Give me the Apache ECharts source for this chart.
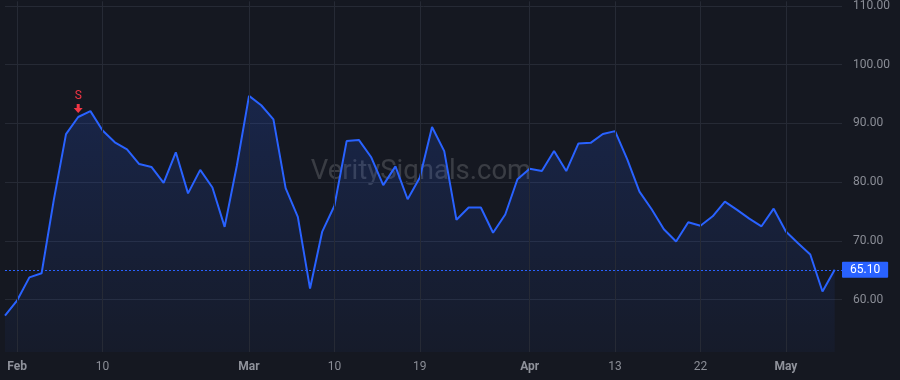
<!DOCTYPE html>
<html>
<head>
<meta charset="utf-8">
<style>
  html, body { margin: 0; padding: 0; background: #151821; }
  #chart { width: 900px; height: 380px; }
</style>
<script src="https://cdn.jsdelivr.net/npm/echarts@6/dist/echarts.min.js"></script>
</head>
<body>
<div id="chart"></div>
<script>
// ---- data ----
const prices = [57.3, 59.9, 63.8, 64.5, 77.0, 88.2, 91.1, 92.1, 88.8, 86.8, 85.6, 83.1, 82.6, 79.9, 85.1, 78.1, 82.1, 79.1, 72.4, 82.8,
  94.7, 93.1, 90.7, 79.0, 74.1, 61.9, 71.6, 76.0, 87.0, 87.2, 84.3, 79.5, 82.7, 77.1, 80.8, 89.4, 85.3, 73.6, 75.7, 75.7,
  71.4, 74.5, 80.5, 82.3, 81.9, 85.3, 81.9, 86.6, 86.7, 88.2, 88.7, 83.9, 78.4, 75.4, 72.0, 69.9, 73.2, 72.6, 74.2, 76.7,
  75.3, 73.8, 72.5, 75.5, 71.6, 69.6, 67.7, 61.4, 65.10];
const xLabelIndex = [1, 8, 20, 27, 34, 43, 50, 57, 64];
const xLabelText = ['Feb', '10', 'Mar', '10', '19', 'Apr', '13', '22', 'May'];
const monthLabels = ['Feb', 'Mar', 'Apr', 'May'];
const lastPrice = 65.10;
const signalIndex = 6;
const signalText = 'S';
const watermark = 'VeritySignals.com';

const labelMap = {};
xLabelIndex.forEach((idx, k) => { labelMap[idx] = xLabelText[k]; });

const chart = echarts.init(document.getElementById('chart'), null, { renderer: 'canvas' });
const font = 'Roboto, "Noto Sans", sans-serif';

const option = {
  backgroundColor: '#151821',
  animation: false,
  grid: { left: 5, right: 58, top: 0, bottom: 28, containLabel: false },
  graphic: [{
    type: 'text',
    x: 421, y: 172,
    silent: true,
    z: 0,
    style: {
      text: watermark,
      font: '27.5px ' + font,
      fill: 'rgba(255,255,255,0.16)',
      textAlign: 'center',
      textVerticalAlign: 'middle'
    }
  }],
  xAxis: {
    type: 'value',
    min: 0,
    max: 68.6,
    interval: 1,
    axisLine: { show: false },
    axisTick: { show: false },
    splitLine: { show: false },
    axisLabel: {
      margin: 9,
      fontFamily: font,
      fontSize: 12,
      color: '#8a8d96',
      showMinLabel: true,
      showMaxLabel: false,
      formatter: function (v) {
        const t = labelMap[Math.round(v)];
        if (t === undefined || Math.abs(v - Math.round(v)) > 1e-6) return '';
        return monthLabels.indexOf(t) >= 0 ? '{m|' + t + '}' : t;
      },
      rich: {
        m: { fontWeight: 'bold', fontSize: 12, fontFamily: font, color: '#8f929b' }
      }
    }
  },
  yAxis: {
    type: 'value',
    position: 'right',
    min: 51.1,
    max: 110.8,
    axisLine: { show: false },
    axisTick: { show: false },
    splitLine: { show: true, showMinLine: false, showMaxLine: false, lineStyle: { color: '#262a35', width: 1 } },
    axisLabel: {
      margin: 11,
      fontFamily: font,
      fontSize: 12,
      color: '#8a8d96',
      showMinLabel: false,
      showMaxLabel: false,
      formatter: v => v.toFixed(2)
    }
  },
  series: [
    {
      type: 'line',
      z: 1,
      data: [],
      silent: true,
      markLine: {
        silent: true,
        symbol: 'none',
        label: { show: false },
        lineStyle: { color: '#262a35', width: 1, type: 'solid' },
        data: xLabelIndex.map(i => ({ xAxis: i }))
      }
    },
    {
      type: 'line',
      z: 2,
      data: prices.map((v, i) => [i, v]),
      showSymbol: false,
      symbol: 'none',
      lineStyle: { color: '#2962ff', width: 2 },
      areaStyle: {
        color: new echarts.graphic.LinearGradient(0, 0, 0, 1, [
          { offset: 0, color: 'rgba(41,98,255,0.26)' },
          { offset: 1, color: 'rgba(41,98,255,0.06)' }
        ])
      },
      markLine: {
        silent: true,
        symbol: 'none',
        lineStyle: { color: '#2962ff', width: 1, type: [2, 2] },
        label: {
          show: true,
          position: 'end',
          distance: 0,
          formatter: () => lastPrice.toFixed(2),
          backgroundColor: '#2962ff',
          color: '#ffffff',
          fontFamily: font,
          fontSize: 12,
          lineHeight: 12,
          padding: [2, 8, 2, 8],
          borderRadius: 1
        },
        data: [{ yAxis: lastPrice }]
      },
      markPoint: {
        silent: true,
        data: [{
          coord: [signalIndex, prices[signalIndex]],
          symbol: 'path://M3,0 L6,0 L6,4 L9,4 L4.5,9 L0,4 L3,4 Z',
          symbolSize: [9, 9],
          symbolOffset: [0, -8.5],
          itemStyle: { color: '#f23645' },
          label: {
            show: true,
            position: 'top',
            distance: 2,
            formatter: signalText,
            color: '#f23645',
            fontFamily: font,
            fontSize: 12
          }
        }]
      }
    }
  ]
};
chart.setOption(option);
</script>
</body>
</html>
